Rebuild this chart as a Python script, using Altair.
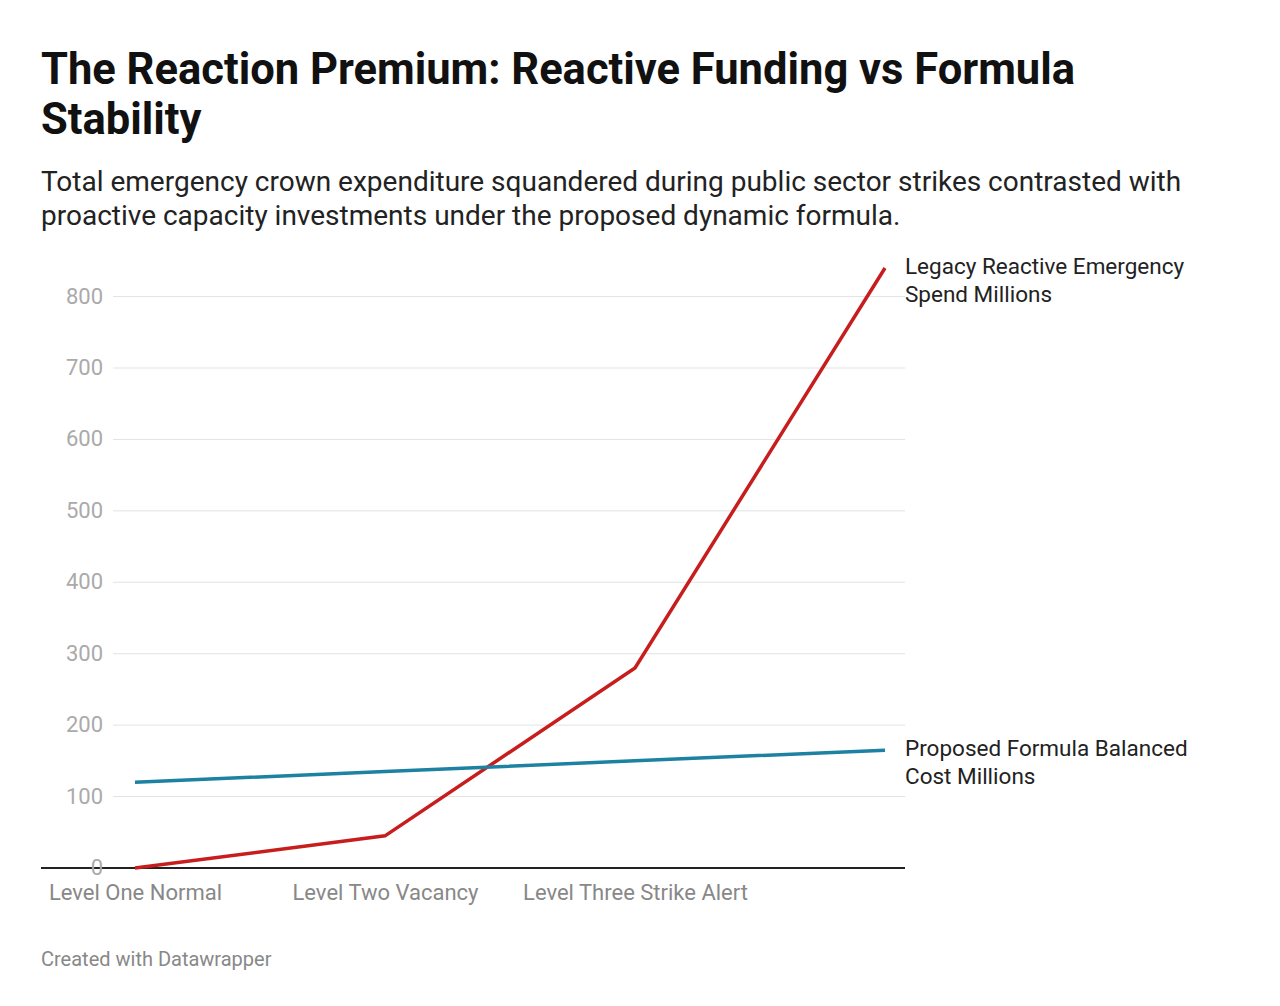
import altair as alt
import pandas as pd

levels = ["Level One Normal", "Level Two Vacancy", "Level Three Strike Alert", ""]
legacy = [0, 45, 280, 840]
proposed = [120, 135, 150, 165]
grid_vals = [100, 200, 300, 400, 500, 600, 700, 800]

rows = []
for i, (a, b) in enumerate(zip(legacy, proposed)):
    rows.append({"i": i, "series": "Legacy", "v": a})
    rows.append({"i": i, "series": "Proposed", "v": b})
df = pd.DataFrame(rows)

W, H = 864, 610
xs = alt.Scale(domain=[-0.376, 3.08], nice=False, zero=False)
ys = alt.Scale(domain=[0, 854], nice=False)
label_expr = "datum.value == 0 ? 'Level One Normal' : datum.value == 1 ? 'Level Two Vacancy' : datum.value == 2 ? 'Level Three Strike Alert' : ''"

grid_df = pd.DataFrame({"y": grid_vals})
grid = alt.Chart(grid_df).mark_rule(color="#e3e3e3", strokeWidth=1).encode(
    y=alt.Y("y:Q", scale=ys, axis=None), x=alt.value(72), x2=alt.value(W))
ylab_df = pd.DataFrame({"y": [0] + grid_vals})
ylab = alt.Chart(ylab_df).mark_text(align="right", baseline="middle", fontSize=22,
                                    font="Roboto", color="#aaaaaa").encode(
    y=alt.Y("y:Q", scale=ys), x=alt.value(62), text="y:Q")
zero = alt.Chart(pd.DataFrame({"y": [0]})).mark_rule(color="#222", strokeWidth=2).encode(
    y=alt.Y("y:Q", scale=ys), x=alt.value(0), x2=alt.value(W))

lines = alt.Chart(df).mark_line(strokeWidth=3.5).encode(
    x=alt.X("i:Q", scale=xs, axis=alt.Axis(values=[0, 1, 2], labelExpr=label_expr, title=None,
            domain=False, ticks=False, grid=False, labelFontSize=22, labelFont="Roboto",
            labelColor="#888888", labelPadding=14, labelLimit=400)),
    y=alt.Y("v:Q", scale=ys),
    color=alt.Color("series:N", scale=alt.Scale(domain=["Legacy", "Proposed"],
                    range=["#c71e1d", "#1d81a2"]), legend=None))

end_df = pd.DataFrame({"i": [3, 3], "v": [legacy[-1], proposed[-1]],
                       "t": [["Legacy Reactive Emergency", "Spend Millions"],
                             ["Proposed Formula Balanced", "Cost Millions"]]})
ends = alt.Chart(end_df).mark_text(align="left", baseline="top", dy=-12, fontSize=22.5,
                                   font="Roboto", color="#222", lineHeight=28).encode(
    x=alt.value(W), y=alt.Y("v:Q", scale=ys), text="t")

foot = alt.Chart(pd.DataFrame({"t": ["Created with Datawrapper"]})).mark_text(
    align="left", baseline="middle", fontSize=20, font="Roboto", color="#888").encode(
    x=alt.value(0), y=alt.value(702), text="t:N")

chart = (grid + zero + lines + ylab + ends + foot).properties(
    width=W, height=H,
    padding={"left": 32, "top": 40, "right": 10, "bottom": 10},
    title=alt.TitleParams(
        text=["The Reaction Premium: Reactive Funding vs Formula", "Stability"],
        subtitle=["Total emergency crown expenditure squandered during public sector strikes contrasted with",
                  "proactive capacity investments under the proposed dynamic formula."],
        anchor="start", frame="group", font="Roboto", fontSize=43.5, fontWeight="bold",
        color="#111", lineHeight=50, subtitleFont="Roboto", subtitleFontSize=28,
        subtitleColor="#222", subtitleLineHeight=34, subtitlePadding=26, offset=24),
).configure_view(stroke=None)

chart.save("out.html", embed_options={"renderer": "svg", "actions": False})
